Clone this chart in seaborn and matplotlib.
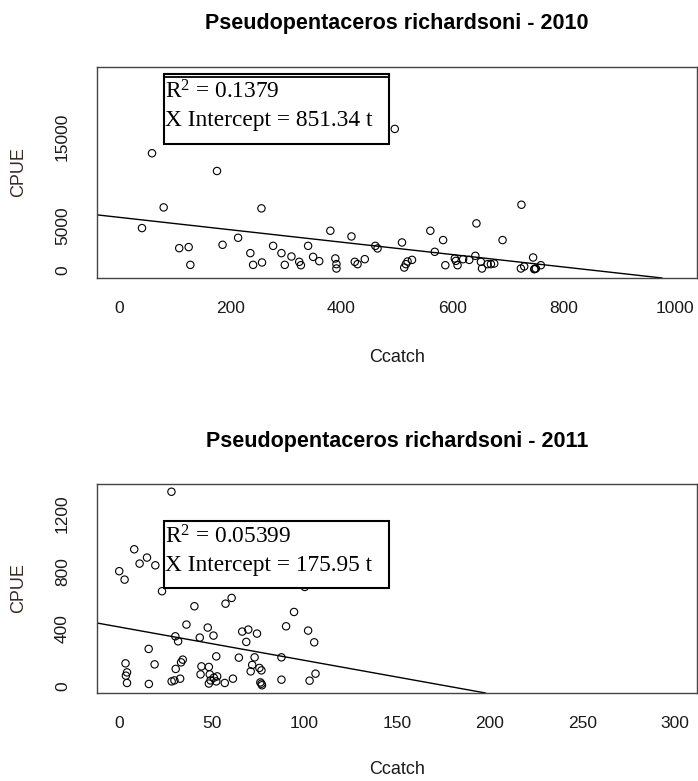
import numpy as np
import pandas as pd
import matplotlib
matplotlib.use("Agg")
import matplotlib.pyplot as plt
from matplotlib.patches import Rectangle
from matplotlib.lines import Line2D
import seaborn as sns

# ---- catch vs CPUE, Pseudopentaceros richardsoni ----
catch_2010 = [41, 59, 80, 108, 125, 128, 176, 186, 214, 256, 236, 241, 257, 277, 292,
              298, 310, 324, 327, 340, 349, 360, 380, 389, 391, 391, 418, 424, 429, 442,
              461, 465, 496, 509, 513, 516, 527, 560, 568, 583, 587, 604, 606, 609, 619,
              630, 641, 643, 651, 653, 663, 669, 675, 690, 723, 724, 729, 745, 747, 750,
              759, 519, 748]
cpue_2010 = [4740, 13170, 7070, 2480, 2600, 600, 11170, 2860, 3650, 6960, 1920, 600, 870,
             2740, 1920, 600, 1540, 940, 560, 2740, 1500, 1015, 4440, 1320, 680, 190, 3800,
             940, 680, 1240, 2740, 2450, 15910, 3120, 300, 680, 1160, 4440, 2070, 3390, 560,
             1320, 1050, 560, 1240, 1160, 1620, 5270, 940, 190, 680, 680, 750, 3390, 190,
             7370, 420, 1430, 110, 190, 560, 980, 150]

catch_2011 = [0, 2.9, 8.1, 11, 15, 19.5, 23.1, 28.2, 3.4, 4.2, 3.6, 4.2, 16, 15.9, 19.1,
              28.3, 29.8, 32.9, 30.5, 33.4, 34.3, 30.3, 31.8, 36.3, 40.6, 43.5, 44.4, 43.9,
              47.8, 48.4, 48.9, 49.3, 48.4, 50.9, 51.1, 52.9, 52.4, 52.4, 57, 57.4, 60.7,
              61.4, 64.6, 66.4, 68.6, 69.7, 71.8, 71, 73.1, 74.4, 75.7, 76.8, 76.2, 76.8,
              77.1, 87.6, 87.6, 90.1, 94.4, 100.2, 102, 105.3, 106, 102.8]
cpue_2011 = [800, 741, 953, 853, 895, 841, 660, 1355, 156, 93, 70, 19, 12, 257, 149, 30,
             37, 49, 117, 163, 182, 345, 310, 427, 555, 336, 135, 79, 406, 131, 79, 37, 15,
             350, 56, 65, 205, 30, 19, 573, 613, 49, 196, 378, 306, 392, 145, 100, 198, 364,
             124, 107, 23, 14, 3, 198, 42, 415, 515, 690, 385, 303, 84, 35]

# fitted regression summaries
r2_2010, xint_2010, yint_2010 = 0.1379, 851.34, 5950
r2_2011, xint_2011, yint_2011 = 0.05399, 175.95, 410

years = ["2010", "2011"]
xticks = [[0, 200, 400, 600, 800, 1000], [0, 50, 100, 150, 200, 250, 300]]
yticks = [[0, 5000, 10000, 15000, 20000], [0, 200, 400, 600, 800, 1000, 1200]]
ylabels_shown = [["0", "5000", "", "15000", ""], ["0", "", "400", "", "800", "", "1200"]]

W, H = 698, 781
sns.set_theme(style="white")
plt.rcParams["font.family"] = ["Liberation Sans", "DejaVu Sans"]
plt.rcParams["mathtext.default"] = "regular"

fig = plt.figure(figsize=(W / 100, H / 100), dpi=100)


def fx(px):
    return px / W


def fy(py):
    return 1 - py / H


def r_range(lo, hi):
    pad = 0.04 * (hi - lo)
    return lo - pad, hi + pad


panels = [
    dict(top=67, bottom=278, x=catch_2010, y=cpue_2010, r2=r2_2010, xint=xint_2010,
         yint=yint_2010, xlim=(0, 1000), ylim=(0, 22000), title_y=24, xlab_y=358,
         box=(163.5, 73.5, 389, 143.5), double_top=True, base1=98.5, base2=125.8),
    dict(top=484, bottom=693, x=catch_2011, y=cpue_2011, r2=r2_2011, xint=xint_2011,
         yint=yint_2011, xlim=(0, 300), ylim=(min(cpue_2011), max(cpue_2011)), title_y=441,
         xlab_y=770, box=(163.5, 520.7, 389, 588.3), double_top=False,
         base1=543.5, base2=570.8),
]

ink = "#1a1a1a"
for i, p in enumerate(panels):
    h = p["bottom"] - p["top"]
    ax = fig.add_axes([fx(97), fy(p["bottom"]), 600 / W, h / H])
    df = pd.DataFrame({"Ccatch": p["x"], "CPUE": p["y"]})
    sns.scatterplot(data=df, x="Ccatch", y="CPUE", ax=ax, marker="o", s=28,
                    facecolor="none", edgecolor="black", linewidth=0.8, zorder=3)
    slope = -p["yint"] / p["xint"]
    ax.axline((0, p["yint"]), slope=slope, color="black", lw=1.0, zorder=2)

    ax.set_xlim(*r_range(*p["xlim"]))
    ax.set_ylim(*r_range(*p["ylim"]))
    ax.set_xticks(xticks[i])
    ax.set_xticklabels([str(t) for t in xticks[i]])
    ax.set_yticks(yticks[i])
    ax.set_yticklabels(ylabels_shown[i], rotation=90, va="center")
    ax.tick_params(axis="both", direction="out", length=8.5, width=0.9, color="#333333",
                   labelsize=12.5, labelcolor=ink)
    ax.tick_params(axis="x", pad=8)
    ax.tick_params(axis="y", pad=11)
    for sp in ax.spines.values():
        sp.set_color("#444444")
        sp.set_linewidth(1.0)

    ax.set_xlabel("Ccatch", fontsize=13, color=ink)
    ax.set_ylabel("CPUE", fontsize=13, color="#3d2a22")
    ax.xaxis.set_label_coords(0.5, -(p["xlab_y"] - p["bottom"]) / h)
    ax.xaxis.label.set_va("center")
    ax.yaxis.set_label_coords(-(97 - 19) / 600, 0.5)
    ax.yaxis.label.set_va("center")

    fig.text(fx(397), fy(p["title_y"]),
             f"Pseudopentaceros richardsoni - {years[i]}",
             ha="center", va="center", fontsize=15.5, fontweight="bold", color="black")

    # summary box drawn over the points
    x0, y0, x1, y1 = p["box"]
    fig.add_artist(Rectangle((fx(x0), fy(y1)), fx(x1) - fx(x0), fy(y0) - fy(y1),
                             transform=fig.transFigure, facecolor="white",
                             edgecolor="black", lw=1.5, zorder=5))
    if p["double_top"]:
        fig.add_artist(Line2D([fx(x0), fx(x1)], [fy(y0 + 3), fy(y0 + 3)],
                              transform=fig.transFigure, color="black", lw=1.3, zorder=6))
    fig.text(fx(165), fy(p["base1"]), f"R$^{{2}}$ = {p['r2']:g}",
             ha="left", va="baseline", fontsize=16.8, family="Liberation Serif",
             color="black", zorder=7)
    fig.text(fx(165), fy(p["base2"]), f"X Intercept = {p['xint']:.2f} t",
             ha="left", va="baseline", fontsize=16.8, family="Liberation Serif",
             color="black", zorder=7)

fig.savefig("out.png", dpi=100, facecolor="white")
